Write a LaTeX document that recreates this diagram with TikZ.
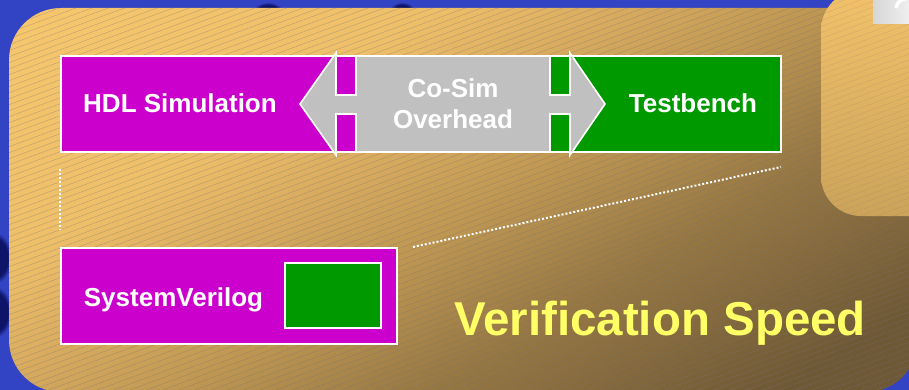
\documentclass[tikz,border=0pt]{standalone}
\usepackage{fontspec}
\setmainfont{Liberation Sans}
\usetikzlibrary{calc}

\definecolor{bgblue}{RGB}{50,68,196}
\definecolor{navy}{RGB}{14,20,104}
\definecolor{hdlmag}{RGB}{204,0,204}
\definecolor{tbgreen}{RGB}{0,153,0}
\definecolor{cosimgray}{RGB}{192,192,192}
\definecolor{titleyellow}{RGB}{255,255,102}
\definecolor{goldA}{RGB}{247,199,110}
\definecolor{goldB}{RGB}{238,191,105}
\definecolor{goldC}{RGB}{216,171,95}
\definecolor{goldD}{RGB}{192,152,83}
\definecolor{goldE}{RGB}{152,121,68}
\definecolor{goldF}{RGB}{110,88,53}
\definecolor{sideTop}{RGB}{242,194,106}
\definecolor{sideBot}{RGB}{204,163,90}
\definecolor{hatchgray}{RGB}{120,115,120}

% panel fade, bottom (dark) to top (light)
\pgfdeclareverticalshading{panelfade}{100bp}{%
  color(0bp)=(goldF); color(29bp)=(goldF); color(41bp)=(goldE);
  color(49bp)=(goldD); color(55bp)=(goldC); color(61bp)=(goldB);
  color(75bp)=(goldA); color(100bp)=(goldA)}
% soft dark spot in the blue backdrop
\pgfdeclareradialshading{darkspot}{\pgfpoint{0bp}{0bp}}{%
  color(0bp)=(navy); color(19bp)=(navy); color(25bp)=(bgblue); color(50bp)=(bgblue)}

\tikzset{
  blk/.style={draw=white, line width=1.6pt, inner sep=0pt},
  lbl/.style={text=white, font=\fontsize{26}{31}\selectfont\bfseries,
              inner sep=0pt, anchor=base},
  hatch/.style={draw=hatchgray, line width=0.5pt, opacity=0.4},
  dotline/.style={draw=white, line width=2pt, dash pattern=on 2pt off 2pt},
  cosim/.style={fill=cosimgray, draw=white, line width=1.6pt, line join=miter},
}

\begin{document}
\begin{tikzpicture}[x=1pt,y=-1pt]
\useasboundingbox (0,0) rectangle (909,390);

% blue backdrop with a few dark spots
\fill[bgblue] (0,0) rectangle (909,390);
\begin{scope}
  \clip (0,0) rectangle (909,390);
  \shade[shading=darkspot] (268,15) ellipse (17pt and 13pt);
  \shade[shading=darkspot] (402,14) ellipse (14pt and 12pt);
  \shade[shading=darkspot] (-6,258) ellipse (18pt and 26pt);
  \shade[shading=darkspot] (-6,312) ellipse (18pt and 26pt);
\end{scope}

% main gold panel, fading towards the lower right
\begin{scope}
  \clip[rounded corners=52pt] (9,8) rectangle (918,392);
  \begin{scope}[transform canvas={rotate around={31:(463,200)}}]
    \shade[shading=panelfade] (-350,-197) rectangle (1280,591);
  \end{scope}
  \foreach \c in {0,6,...,740}
    \draw[hatch] (0,\c) -- (909,{\c-336});
\end{scope}

% lighter side panel at the upper right
\shade[top color=sideTop, bottom color=sideBot, rounded corners=40pt]
  (821,-10) rectangle (950,216);
\begin{scope}
  \clip[rounded corners=40pt] (821,-10) rectangle (950,216);
  \foreach \c in {198,204,...,560}
    \draw[hatch, opacity=0.2] (0,\c) -- (909,{\c-336});
\end{scope}

% light grey tile in the corner
\shade[left color=black!16!white, right color=black!6!white]
  (873,-1) rectangle (910,24);
\draw[white, line width=3.5pt] (896,8) .. controls (897,1) and (903,-2) .. (911,-2);

% main blocks
\node[blk, fill=hdlmag, minimum width=275pt, minimum height=96pt] (hdl) at (198.5,104) {};
\node[blk, fill=tbgreen, minimum width=211pt, minimum height=96pt] (tb) at (675.5,104) {};

% co-simulation double arrow
\draw[cosim] (300,104) -- (336,53) -- (336,56) -- (570,56) -- (570,53)
  -- (605,104) -- (570,155) -- (570,152) -- (336,152) -- (336,155) -- cycle;

% narrow links through the arrow heads
\node[blk, fill=hdlmag, minimum width=20pt, minimum height=39pt] (hdlup) at (346,75.5) {};
\node[blk, fill=hdlmag, minimum width=20pt, minimum height=38pt] (hdllo) at (346,133) {};
\node[blk, fill=tbgreen, minimum width=20pt, minimum height=39pt] (tbup) at (560,75.5) {};
\node[blk, fill=tbgreen, minimum width=20pt, minimum height=38pt] (tblo) at (560,133) {};

% labels of the upper row
\node[lbl] (hdltxt) at (180,113) {HDL Simulation};
\node[lbl] (tbtxt) at (693,113) {Testbench};
\node[lbl] (cosim1) at (453,98) {Co-Sim};
\node[lbl] (cosim2) at (453,129) {Overhead};

% SystemVerilog block with its embedded testbench
\node[blk, fill=hdlmag, minimum width=336pt, minimum height=96pt] (sv) at (229,296) {};
\node[blk, fill=tbgreen, minimum width=96pt, minimum height=65pt] (svtb) at (333,295.5) {};
\node[lbl] (svtxt) at (173.5,306) {SystemVerilog};

% dotted guides between the two rows
\draw[dotline, shorten <=16pt, shorten >=18pt] (hdl.south west) -- (sv.north west);
\coordinate (dA) at (413,247);
\coordinate (dB) at (781,167);
\draw[dotline] (dA) -- (dB);

% title
\node[text=titleyellow, font=\fontsize{47.5}{57}\selectfont\bfseries,
      inner sep=0pt, anchor=base] (title) at (660,335) {Verification Speed};
\end{tikzpicture}
\end{document}
